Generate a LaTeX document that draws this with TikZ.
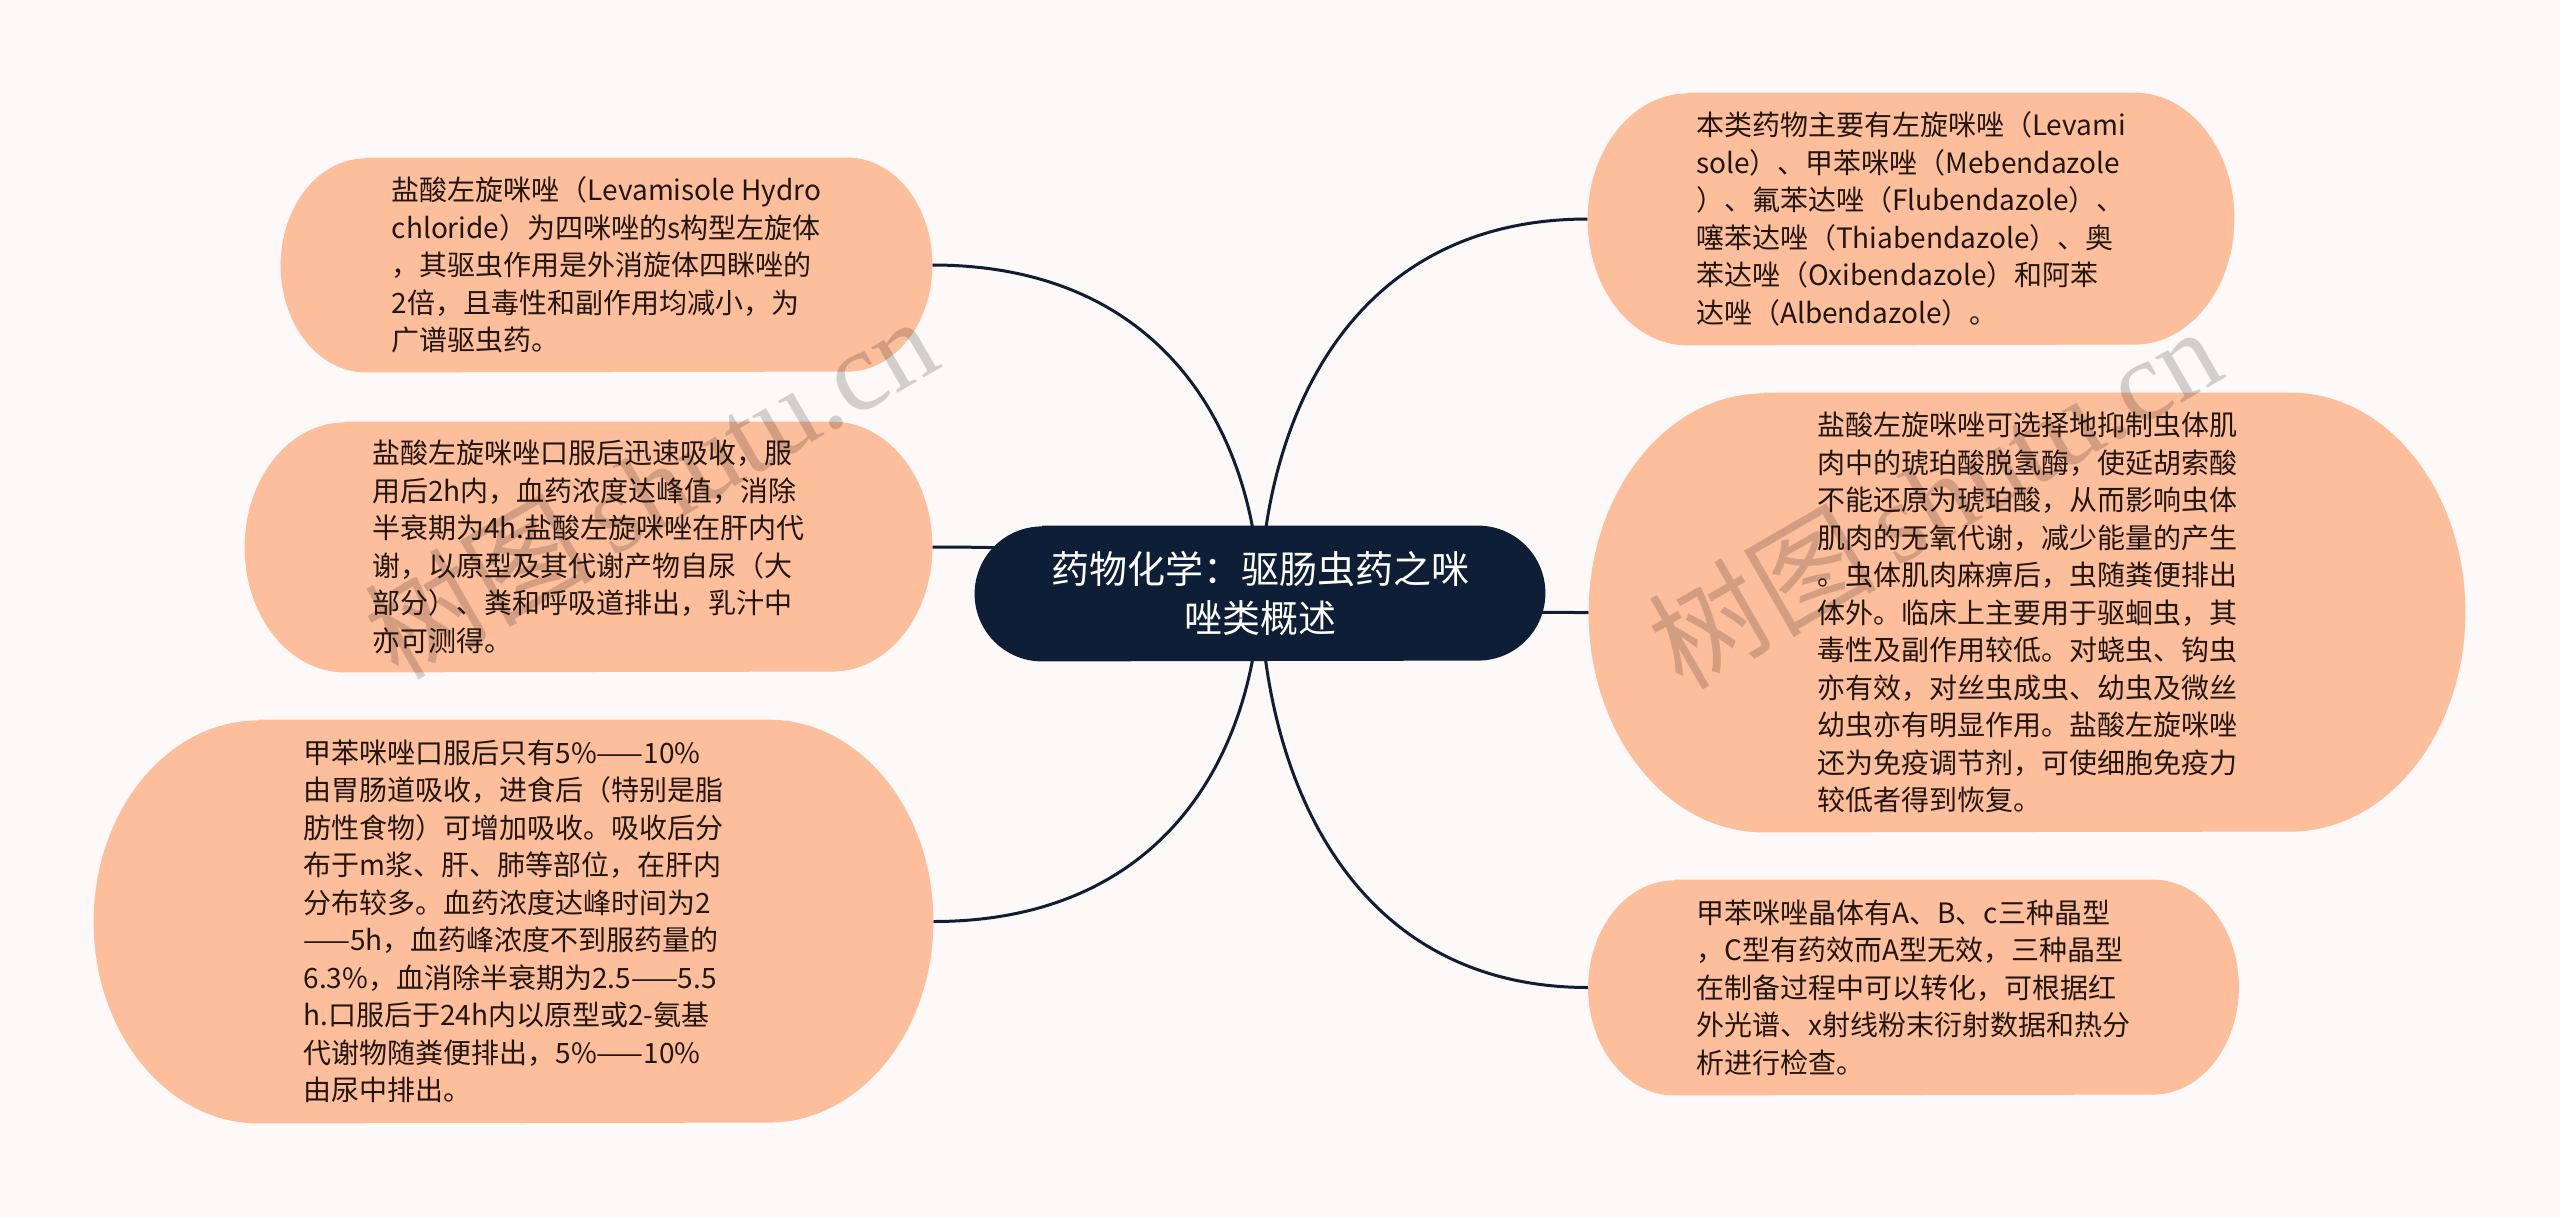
\documentclass[tikz,border=0pt]{standalone}
\usepackage{fontspec}
\newfontfamily\cjk{Noto Sans CJK SC}
\newfontfamily\wmserif{Liberation Serif}
\usetikzlibrary{calc}
\definecolor{bgc}{HTML}{FCF9F8}
\definecolor{peach}{HTML}{FDBE9C}
\definecolor{navy}{HTML}{0E1E36}
\definecolor{txt}{HTML}{22160F}
\pgfdeclarelayer{bg}
\pgfdeclarelayer{wm}
\pgfsetlayers{bg,wm,main}
% #1 node name, #2 colour, #3 x radius, #4 y radius
\newcommand\stadfill[4]{%
  \fill[#2] ([xshift=#3]#1.north west) -- ([xshift=-#3]#1.north east)
    arc[start angle=90,end angle=-90,x radius=#3,y radius=#4]
    -- ([xshift=#3]#1.south west)
    arc[start angle=270,end angle=90,x radius=#3,y radius=#4] -- cycle;}
\newcommand\conncurve[2]{%
  \draw[conn] let \p1=(#1), \p2=(#2) in (\p1)
    .. controls ({\x1+0.02*(\x2-\x1)},{\y1+0.5*(\y2-\y1)}) and ({\x1+0.3*(\x2-\x1)},\y2) .. (\p2);}
\begin{document}
\begin{tikzpicture}[x=0.5pt,y=-0.5pt,
  box/.style={inner sep=0pt, align=left, text=txt, font=\cjk\fontsize{14pt}{18.75pt}\selectfont},
  root/.style={inner sep=0pt, align=center, text=white, font=\cjk\fontsize{19pt}{24.5pt}\selectfont},
  conn/.style={line width=1.5pt, draw=navy},
  wmark/.style={text=black, opacity=0.17, rotate=30, inner sep=0pt, font=\fontsize{57pt}{60pt}\selectfont}]
\useasboundingbox (0,0) rectangle (2560,1217);

\node[root, minimum width=285pt, minimum height=67.5pt] (c) at (1260,593.5)
  {药物化学：驱肠虫药之咪\\唑类概述};

\node[box, minimum width=325.5pt, minimum height=107pt] (tl) at (606.5,265)
  {盐酸左旋咪唑（Levamisole Hydro\\
   chloride）为四咪唑的s构型左旋体\\
   ，其驱虫作用是外消旋体四眯唑的\\
   2倍，且毒性和副作用均减小，为\\
   广谱驱虫药。};

\node[box, minimum width=343.5pt, minimum height=125pt] (ml) at (588.5,547)
  {盐酸左旋咪唑口服后迅速吸收，服\\
   用后2h内，血药浓度达峰值，消除\\
   半衰期为4h.盐酸左旋咪唑在肝内代\\
   谢，以原型及其代谢产物自尿（大\\
   部分）、粪和呼吸道排出，乳汁中\\
   亦可测得。};

\node[box, minimum width=419.5pt, minimum height=201.5pt] (bl) at (513.5,921.5)
  {甲苯咪唑口服后只有5\%——10\%\\
   由胃肠道吸收，进食后（特别是脂\\
   肪性食物）可增加吸收。吸收后分\\
   布于m浆、肝、肺等部位，在肝内\\
   分布较多。血药浓度达峰时间为2\\
   ——5h，血药峰浓度不到服药量的\\
   6.3\%，血消除半衰期为2.5——5.5\\
   h.口服后于24h内以原型或2-氨基\\
   代谢物随粪便排出，5\%——10\%\\
   由尿中排出。};

\node[box, minimum width=323pt, minimum height=126pt] (tr) at (1911,219)
  {本类药物主要有左旋咪唑（Levami\\
   sole）、甲苯咪唑（Mebendazole\\
   ）、氟苯达唑（Flubendazole）、\\
   噻苯达唑（Thiabendazole）、奥\\
   苯达唑（Oxibendazole）和阿苯\\
   达唑（Albendazole）。};

\node[box, minimum width=438pt, minimum height=219.5pt] (mr) at (2027,612.5)
  {盐酸左旋咪唑可选择地抑制虫体肌\\
   肉中的琥珀酸脱氢酶，使延胡索酸\\
   不能还原为琥珀酸，从而影响虫体\\
   肌肉的无氧代谢，减少能量的产生\\
   。虫体肌肉麻痹后，虫随粪便排出\\
   体外。临床上主要用于驱蛔虫，其\\
   毒性及副作用较低。对蛲虫、钩虫\\
   亦有效，对丝虫成虫、幼虫及微丝\\
   幼虫亦有明显作用。盐酸左旋咪唑\\
   还为免疫调节剂，可使细胞免疫力\\
   较低者得到恢复。};

\node[box, minimum width=325pt, minimum height=107.5pt] (br) at (1913.5,987.5)
  {甲苯咪唑晶体有A、B、c三种晶型\\
   ，C型有药效而A型无效，三种晶型\\
   在制备过程中可以转化，可根据红\\
   外光谱、x射线粉末衍射数据和热分\\
   析进行检查。};

\begin{pgfonlayer}{bg}
  \fill[bgc] (0,0) rectangle (2560,1217);
  \conncurve{c.center}{tl.east}
  \conncurve{c.center}{ml.east}
  \conncurve{c.center}{bl.east}
  \conncurve{c.center}{tr.west}
  \conncurve{c.center}{mr.west}
  \conncurve{c.center}{br.west}
  \stadfill{tl}{peach}{42.5pt}{53.5pt}
  \stadfill{ml}{peach}{50pt}{62.5pt}
  \stadfill{bl}{peach}{82.5pt}{100.75pt}
  \stadfill{tr}{peach}{50pt}{63pt}
  \stadfill{mr}{peach}{87.5pt}{109.75pt}
  \stadfill{br}{peach}{43pt}{53.75pt}
  \stadfill{c}{navy}{33.75pt}{33.75pt}
\end{pgfonlayer}

\begin{pgfonlayer}{wm}
  \node[wmark] (wm1) at (650,486) {{\cjk 树图}\,{\wmserif shutu.cn}};
  \node[wmark] (wm2) at (1934,496) {{\cjk 树图}\,{\wmserif shutu.cn}};
\end{pgfonlayer}
\end{tikzpicture}
\end{document}
